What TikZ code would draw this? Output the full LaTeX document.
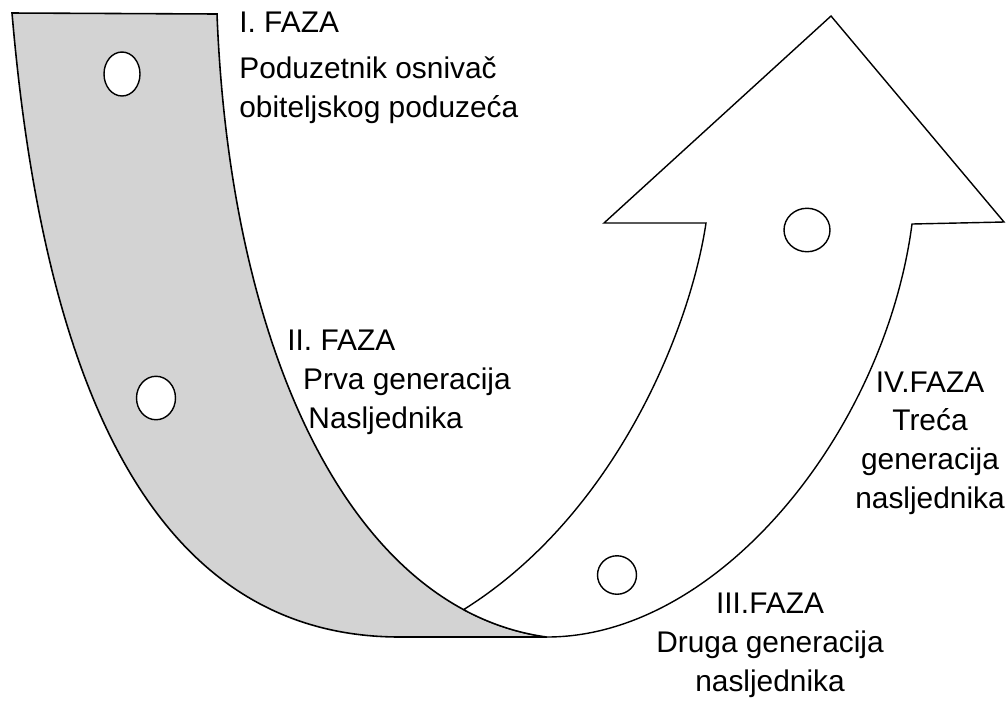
\documentclass[tikz,border=0pt]{standalone}
\usepackage{fontspec}
\setmainfont{Liberation Sans}
\usetikzlibrary{shapes.geometric}
\definecolor{bandColor}{HTML}{D3D3D3}
\tikzstyle{band} = [draw=black, 
line width=0.9pt, 
fill=bandColor]
\tikzstyle{upArrow} = [draw=black, 
line width=0.8pt, 
fill=white, 
line join=miter]
\tikzstyle{hole} = [ellipse, 
draw=black, 
line width=0.8pt, 
fill=white, 
inner sep=0pt]
\tikzstyle{phase} = [inner sep=0pt, 
font=\fontsize{17pt}{22pt}\selectfont]

\begin{document}
\begin{tikzpicture}[x=0.02cm, y=-0.02cm]
    \useasboundingbox (0,0) rectangle (1007,701);
    % Points of the band and the arrow
    \coordinate (bandTL) at (12,13);
    \coordinate (bandTR) at (217,14);
    \coordinate (bandBL) at (400,637);
    \coordinate (uBottom) at (547,637);
    \coordinate (arrowFoot) at (463.6,609.6);
    \coordinate (shaftL) at (706,223);
    \coordinate (shaftR) at (912,224);
    \coordinate (headL) at (604,223);
    \coordinate (headR) at (1004,222);
    \coordinate (apex) at (831,16);

    % Shaded band
    \draw[band] (bandTL) -- (bandTR) .. controls (230,350) and (350,610) .. (uBottom)
        -- (bandBL) .. controls (160,637) and (45,400) .. cycle;

    % Arrow
    \draw[upArrow] (arrowFoot) .. controls (489.6,623.6) and (517.5,633) .. (uBottom)
        .. controls (720,637) and (885,430) .. (shaftR) -- (headR) -- (apex) -- (headL)
        -- (shaftL) .. controls (690,330) and (615,515) .. cycle;

    % Holes
    \node[hole, minimum width=0.72cm, minimum height=0.88cm] (holeI) at (122,74) {};
    \node[hole, minimum width=0.78cm, minimum height=0.87cm] (holeII) at (156,398) {};
    \node[hole, minimum width=0.78cm, minimum height=0.77cm] (holeIII) at (617,575) {};
    \node[hole, minimum width=0.92cm, minimum height=0.87cm] (holeIV) at (807,230) {};

    % Labels (base = last line)
    \node[phase, anchor=base west, align=left] (fazaI) at (239,117)
        {I. FAZA\\[4pt]Poduzetnik osnivač\\obiteljskog poduzeća};
    \node[phase, anchor=base west, align=left] (fazaII) at (287,428)
        {II. FAZA\\\hspace*{9pt}Prva generacija\\\hspace*{12pt}Nasljednika};
    \node[phase, anchor=base, align=center] (fazaIII) at (770,691)
        {III.FAZA\\Druga generacija\\nasljednika};
    \node[phase, anchor=base, align=center] (fazaIV) at (930,508)
        {IV.FAZA\\Treća\\generacija\\nasljednika};
\end{tikzpicture}
\end{document}
